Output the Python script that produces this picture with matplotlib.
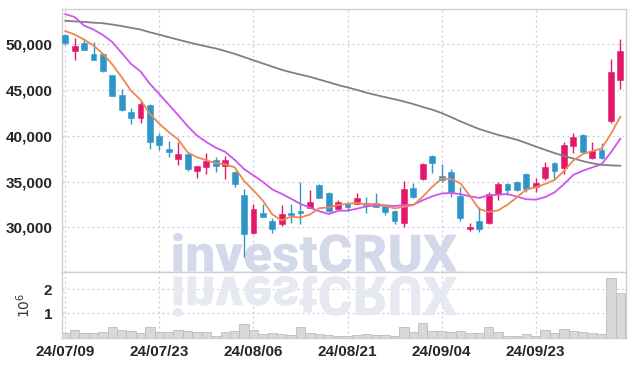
import matplotlib
matplotlib.use('Agg')
import matplotlib.pyplot as plt
from matplotlib.textpath import TextPath
from matplotlib.patches import PathPatch
from matplotlib.font_manager import FontProperties
from matplotlib.transforms import Affine2D
import matplotlib.ticker as mticker

# 거래일 (24년 7월 ~ 10월)
dates = ['24/07/09', '24/07/10', '24/07/11', '24/07/12', '24/07/15', '24/07/16', '24/07/17', '24/07/18',
         '24/07/19', '24/07/22', '24/07/23', '24/07/24', '24/07/25', '24/07/26', '24/07/29', '24/07/30',
         '24/07/31', '24/08/01', '24/08/02', '24/08/05', '24/08/06', '24/08/07', '24/08/08', '24/08/09',
         '24/08/12', '24/08/13', '24/08/14', '24/08/16', '24/08/19', '24/08/20', '24/08/21', '24/08/22',
         '24/08/23', '24/08/26', '24/08/27', '24/08/28', '24/08/29', '24/08/30', '24/09/02', '24/09/03',
         '24/09/04', '24/09/05', '24/09/06', '24/09/09', '24/09/10', '24/09/11', '24/09/12', '24/09/13',
         '24/09/19', '24/09/20', '24/09/23', '24/09/24', '24/09/25', '24/09/26', '24/09/27', '24/09/30',
         '24/10/02', '24/10/04', '24/10/07', '24/10/08']

opens = [51000, 49300, 50100, 48950, 48950, 46650, 44450, 42550, 42000, 43350,
         40000, 38550, 37450, 38000, 36200, 36600, 37350, 36750, 36050, 33500,
         29350, 31600, 30700, 30350, 31600, 31800, 32150, 34600, 33800, 32000,
         32550, 32600, 32700, 32700, 32350, 31800, 30450, 34250, 35250, 37800,
         35600, 36050, 33450, 29800, 30700, 30500, 33650, 34750, 35000, 35800,
         34350, 35400, 37000, 36450, 38900, 40100, 37550, 38450, 41650, 46100]
highs = [51100, 50650, 50600, 50300, 49000, 46700, 45100, 43000, 43800, 43450,
         40300, 39450, 39350, 38050, 36750, 38100, 37650, 37800, 36150, 34150,
         32550, 32500, 31000, 32450, 32600, 35000, 34050, 34700, 33900, 33000,
         32800, 33800, 33300, 33700, 32450, 31850, 35100, 34850, 37050, 37900,
         36900, 36350, 34450, 30450, 32250, 33900, 35000, 34800, 35050, 35900,
         35350, 37100, 37100, 39350, 40350, 40150, 39350, 39250, 48450, 50550]
lows = [49900, 48300, 49350, 48300, 46950, 44350, 42700, 41250, 41450, 38550,
        38500, 37650, 36800, 36200, 35350, 35800, 36050, 35250, 34350, 26800,
        29300, 31100, 29350, 30150, 30450, 30350, 32100, 33150, 31650, 31950,
        31800, 32550, 31550, 32200, 31350, 30350, 30050, 33200, 35200, 35900,
        35000, 33350, 30700, 29600, 29500, 30350, 33000, 33550, 34000, 33900,
        33900, 35150, 35200, 35850, 38150, 38200, 37500, 37500, 41450, 45100]
closes = [50200, 49800, 49400, 48300, 47100, 44400, 42800, 41950, 43450, 39350,
          39000, 38250, 38000, 36350, 36700, 37300, 36700, 37350, 34750, 29300,
          32050, 31150, 29800, 31450, 31350, 31600, 32800, 33250, 31800, 32800,
          32200, 33250, 32400, 32250, 31700, 30700, 34150, 33300, 36900, 37050,
          35200, 33900, 31000, 30050, 29800, 33650, 34750, 34050, 34100, 34150,
          34800, 36600, 36200, 39000, 39900, 38250, 38350, 37550, 47000, 49300]

# 이동평균선 (5일, 10일, 60일)
ma5 = [51450, 51070, 50520, 49870, 48960, 47800, 46400, 44910, 43940, 42390,
       41310, 40400, 39610, 38190, 37660, 37320, 37010, 36880, 36560, 35080,
       34030, 32920, 31410, 30750, 31160, 31070, 31400, 32090, 32160, 32450,
       32570, 32660, 32490, 32580, 32360, 32060, 32240, 32420, 33350, 34420,
       35320, 35270, 34810, 33440, 31990, 31680, 31850, 32460, 33270, 34140,
       34370, 34740, 35170, 36150, 37300, 37990, 38340, 38610, 40210, 42090]
ma10 = [53310, 52980, 52050, 51620, 51020, 50250, 49050, 47850, 47030, 45675,
        44555, 43400, 42260, 41065, 40025, 39315, 38705, 38245, 37375, 36370,
        35675, 34965, 34145, 33655, 33120, 32550, 32160, 31750, 31455, 31805,
        31820, 32030, 32290, 32370, 32405, 32315, 32450, 32455, 32965, 33390,
        33690, 33755, 33615, 33395, 33205, 33500, 33560, 33635, 33355, 33065,
        33025, 33295, 33815, 34710, 35720, 36180, 36540, 36890, 38180, 39695]
ma60 = [52580, 52510, 52450, 52370, 52310, 52160, 52000, 51800, 51620, 51320,
        51060, 50780, 50510, 50250, 50000, 49770, 49550, 49270, 48960, 48610,
        48260, 47910, 47570, 47220, 46940, 46690, 46450, 46150, 45860, 45550,
        45290, 45020, 44720, 44460, 44230, 44000, 43750, 43470, 43150, 42860,
        42490, 42050, 41580, 41150, 40740, 40410, 40110, 39840, 39570, 39210,
        38830, 38470, 38120, 37790, 37520, 37240, 37000, 36830, 36770, 36730]

# 거래량 (백만주)
volume = [0.18, 0.31, 0.18, 0.18, 0.22, 0.42, 0.31, 0.26, 0.18, 0.42,
          0.22, 0.22, 0.30, 0.26, 0.22, 0.22, 0.08, 0.22, 0.27, 0.56,
          0.31, 0.14, 0.18, 0.15, 0.11, 0.42, 0.18, 0.14, 0.11, 0.08,
          0.08, 0.11, 0.15, 0.11, 0.11, 0.08, 0.45, 0.22, 0.59, 0.27,
          0.27, 0.22, 0.27, 0.18, 0.18, 0.42, 0.22, 0.08, 0.08, 0.14,
          0.08, 0.30, 0.18, 0.34, 0.27, 0.22, 0.18, 0.14, 2.44, 1.82]

UP = '#e2196b'
DOWN = '#2f95c9'
GRID = '#c8c8e2'

plt.rcParams['font.family'] = ['Liberation Sans Narrow', 'Liberation Sans', 'DejaVu Sans']

fig = plt.figure(figsize=(6.34, 3.66), dpi=100)
ax = fig.add_axes([62 / 634, (366 - 272.3) / 366, 563.5 / 634, 263 / 366])
axv = fig.add_axes([62 / 634, (366 - 337.6) / 366, 563.5 / 634, 65.3 / 366], sharex=ax)

x = list(range(len(closes)))

# 캔들
for i in x:
    col = UP if closes[i] >= opens[i] else DOWN
    ax.vlines(i, lows[i], highs[i], color=col, linewidth=1.0, zorder=3)
    ax.bar(i, abs(closes[i] - opens[i]), bottom=min(opens[i], closes[i]), width=0.62,
           color=col, edgecolor=col, linewidth=0.4, zorder=4)

# 이동평균선
ax.plot(x, ma60, color='#808080', linewidth=1.3, zorder=5)
ax.plot(x, ma10, color='#cc55ee', linewidth=1.3, zorder=5)
ax.plot(x, ma5, color='#ef8850', linewidth=1.3, zorder=6)

# 거래량
axv.bar(x, [v * 1e6 for v in volume], width=1.0, color='#d8d8d8', edgecolor='#bdbdbd',
        linewidth=0.6, zorder=3)

ax.set_xlim(-0.35, 59.55)
ax.set_ylim(25080, 53830)
axv.set_ylim(0, 2.69e6)

ax.yaxis.set_major_locator(mticker.FixedLocator([30000, 35000, 40000, 45000, 50000]))
ax.yaxis.set_major_formatter(mticker.FuncFormatter(lambda v, p: f'{int(v):,}'))
axv.yaxis.set_major_locator(mticker.FixedLocator([1e6, 2e6]))
axv.yaxis.set_major_formatter(mticker.FuncFormatter(lambda v, p: f'{int(v / 1e6)}'))
axv.set_ylabel('$10^{6}$', fontsize=10, color='#333333', labelpad=8, family='DejaVu Sans')

tick_pos = x[::10]
axv.set_xticks(tick_pos)
axv.set_xticklabels(dates[::10])
plt.setp(ax.get_xticklabels(), visible=False)

for a in (ax, axv):
    a.grid(True, color=GRID, linestyle=(0, (1.5, 2.5)), linewidth=0.9)
    a.set_axisbelow(True)
    a.tick_params(length=0, labelsize=11, labelcolor='#262626', pad=7)
    for lbl in a.get_yticklabels() + a.get_xticklabels():
        lbl.set_fontweight('bold')
    for s in a.spines.values():
        s.set_color('#cfcfcf')
        s.set_linewidth(1.0)
axv.tick_params(axis='x', pad=5)

# 워터마크 (반사 포함)
fp = FontProperties(family='Roboto', weight=900)
tp = TextPath((0, 0), 'investCRUX', size=50, prop=fp)
ext = tp.get_extents()
sx = 284 / ext.width
tr_main = Affine2D().translate(-ext.x0, -ext.y0).scale(sx, 39 / ext.height).translate(173, 366 - 272)
tr_ref = Affine2D().translate(-ext.x0, -ext.y0).scale(sx, -41 / ext.height).translate(173, 366 - 276)
ax.add_artist(PathPatch(tp, transform=tr_main, facecolor='#d3d8ea', edgecolor='none', zorder=1))
axv.add_artist(PathPatch(tp, transform=tr_ref, facecolor='#e6e8f2', edgecolor='none', zorder=1))

plt.savefig('out.png', dpi=100, facecolor='white')
